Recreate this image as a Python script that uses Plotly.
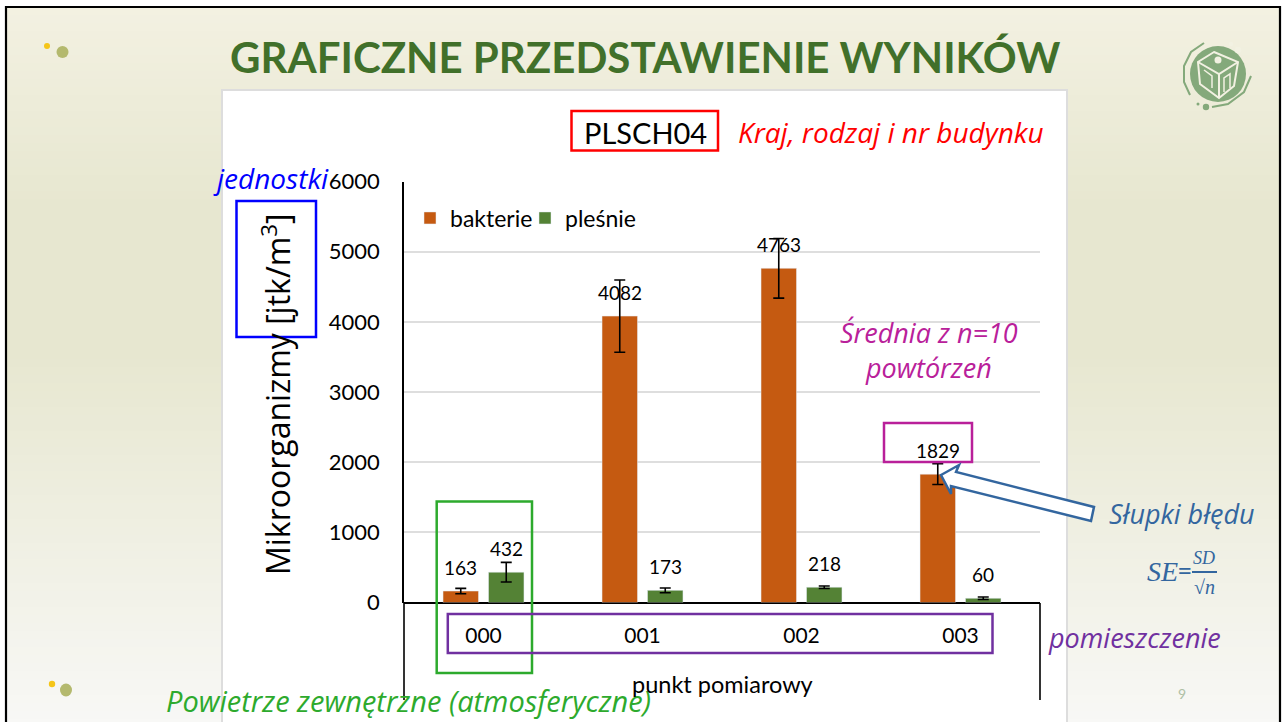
import plotly.graph_objects as go

W = 1283
H = 722

punkty = ["000", "001", "002", "003"]
bakterie = [163, 4082, 4763, 1829]
plesnie = [432, 173, 218, 60]
bakterie_se = [38, 515, 425, 148]
plesnie_se = [140, 33, 18, 18]
y_ticks = [0, 1000, 2000, 3000, 4000, 5000, 6000]

ORANGE = "#C55A11"
GREEN = "#548235"
TITLE_GREEN = "#41702A"
BLUE = "#33669F"
MAGENTA = "#B9209A"
PURPLE = "#7030A0"
BOX_GREEN = "#2DAA2D"
HAND = "Open Sans"
CHART = "Lato"


def px(x):
    return x / W


def py(y):
    return 1 - y / H


def rect(x0, y0, x1, y1, line=None, lw=2.5, fill=None, layer="above"):
    return dict(type="rect", xref="paper", yref="paper", x0=px(x0), x1=px(x1), y0=py(y0), y1=py(y1),
                line=dict(color=line, width=lw) if line else dict(width=0), fillcolor=fill, layer=layer)


def dot(cx, cy, r, color, ry=None):
    ry = ry or r
    return dict(type="circle", xref="paper", yref="paper", x0=px(cx - r), x1=px(cx + r),
                y0=py(cy + ry), y1=py(cy - ry), fillcolor=color, line=dict(width=0), layer="below")


def poly(points, line, lw=2.5, fill=None, closed=True, layer="above"):
    path = "M" + " L".join(f"{px(x):.5f},{py(y):.5f}" for x, y in points)
    if closed:
        path += " Z"
    return dict(type="path", xref="paper", yref="paper", path=path,
                line=dict(color=line, width=lw), fillcolor=fill, layer=layer)


def label(text, x, y, size, color, font=HAND, italic=True, bold=False, angle=0):
    return dict(text=text, xref="paper", yref="paper", x=px(x), y=py(y), xanchor="center", yanchor="middle",
                showarrow=False, textangle=angle,
                font=dict(family=font, size=size, color=color,
                          style="italic" if italic else "normal",
                          weight="bold" if bold else "normal"))


fig = go.Figure()
fig.add_bar(name="bakterie", x=punkty, y=bakterie, marker_color=ORANGE,
            error_y=dict(type="data", array=bakterie_se, color="black", thickness=1.6, width=5.5))
fig.add_bar(name="pleśnie", x=punkty, y=plesnie, marker_color=GREEN,
            error_y=dict(type="data", array=plesnie_se, color="black", thickness=1.6, width=5.5))

shapes = []

# slide background, light olive in the middle and nearly white at the bottom
stops = [(0, (243, 241, 226)), (200, (231, 231, 208)), (350, (231, 231, 208)), (722, (248, 248, 246))]
for y in range(7, H, 8):
    for (a, ca), (b, cb) in zip(stops, stops[1:]):
        if a <= y <= b:
            t = (y - a) / (b - a)
            c = [round(u + (v - u) * t) for u, v in zip(ca, cb)]
            shapes.append(rect(6, y, 1281, y + 9, fill=f"rgb({c[0]},{c[1]},{c[2]})", layer="below"))
            break
shapes.append(poly([(6, H), (6, 7), (1280, 7), (1280, H)], "black", lw=2.2, closed=False, layer="below"))
shapes.append(rect(222, 90, 1067, 724, line="#DDDDDD", lw=2, fill="white", layer="below"))

# bullets
shapes += [dot(47, 46, 3, "#F5C518"), dot(62.5, 52, 6, "#B4B96E"), dot(52, 684, 3.2, "#F5C518"), dot(66, 690, 6, "#B4B96E", 6.5)]

# logo
LOGO = "#84A97B"
LIGHT = "#F2F1E2"
shapes += [dot(1218, 74, 28, LOGO), dot(1238, 50, 3.2, LIGHT), dot(1231, 44, 2.2, LIGHT), dot(1206, 107, 3.2, LOGO), dot(1198, 104, 1.5, LOGO)]
shapes.append(poly([(1190, 95), (1184, 82), (1184, 66), (1191, 52), (1204, 43)], LOGO, lw=2, closed=False, layer="below"))
shapes.append(poly([(1212, 107), (1228, 104), (1244, 92), (1251, 76)], LOGO, lw=2, closed=False, layer="below"))
shapes.append(poly([(1214, 52), (1238, 62), (1234, 86), (1219, 98), (1200, 84), (1198, 62)], LIGHT, lw=2, layer="below"))
shapes.append(poly([(1198, 62), (1219, 74), (1238, 62)], LIGHT, lw=2, closed=False, layer="below"))
shapes.append(poly([(1219, 74), (1219, 98)], LIGHT, lw=2, closed=False, layer="below"))
shapes.append(poly([(1224, 92), (1224, 78), (1230, 74), (1230, 88)], LIGHT, lw=1.5, closed=False, layer="below"))
shapes.append(poly([(1204, 70), (1212, 76), (1212, 88)], LIGHT, lw=1.5, closed=False, layer="below"))
shapes.append(dot(1218, 60, 3.5, LIGHT))

# extension of the axis lines under the category labels
shapes.append(poly([(404, 603), (404, 700)], "black", lw=1.6, closed=False))
shapes.append(poly([(1040, 603), (1040, 700)], "black", lw=1.6, closed=False))

# explanation boxes
shapes.append(rect(571.5, 111, 718, 150.5, "#FF0000"))
shapes.append(rect(236.5, 201, 316, 337, "#0000FF"))
shapes.append(rect(884, 423, 972, 462, MAGENTA))
shapes.append(rect(436.7, 501.5, 532, 673, BOX_GREEN))
shapes.append(rect(447.8, 614, 992.5, 653, PURPLE))
shapes.append(poly([(941, 475), (959, 465), (956, 472), (1094, 507), (1091, 521), (951, 486), (951, 494)],
                   BLUE, fill="white"))
# SE fraction bar
shapes.append(poly([(1192, 572), (1217, 572)], BLUE, lw=2, closed=False))

annotations = [
    label("GRAFICZNE PRZEDSTAWIENIE WYNIKÓW", 645, 57, 42, TITLE_GREEN, font="Lato", italic=False, bold=True),
    label("PLSCH04", 645, 132, 29, "black", font=CHART, italic=False),
    label("Kraj, rodzaj i nr budynku", 891, 132, 28, "#FF0000"),
    label("jednostki", 271, 178, 28, "#0000FF"),
    label("Średnia z n=10<br>powtórzeń", 929, 350, 27, MAGENTA),
    label("Słupki błędu", 1182, 513, 27, BLUE),
    label("pomieszczenie", 1134, 637, 27, PURPLE),
    label("Powietrze zewnętrzne (atmosferyczne)", 408, 700, 29, BOX_GREEN),
    label("SE", 1162, 571, 28, BLUE, font="Liberation Serif"),
    label("=", 1185, 571, 24, BLUE, font="Liberation Serif", italic=False, bold=True),
    label("SD", 1204, 558, 18, BLUE, font="Liberation Serif"),
    label("√n", 1204, 587, 20, BLUE, font="Liberation Serif"),
    label("9", 1182, 693, 14, "#AFC0A5", font=CHART, italic=False),
    # axis titles, placed here because automargin would shrink the slide
    label("punkt pomiarowy", 722, 684, 23.5, "black", font=CHART, italic=False),
    label("Mikroorganizmy [jtk/m<sup>3</sup>]", 276, 394, 32, "black", italic=False, angle=-90),
]

# value labels sit a fixed distance above each bar
for values, shift in ((bakterie, -22.75), (plesnie, 22.75)):
    for cat, v in zip(punkty, values):
        annotations.append(dict(x=cat, y=v, xref="x", yref="y", text=str(v), showarrow=False, yanchor="middle",
                                xshift=shift, yshift=24, font=dict(family=CHART, size=19, color="black")))

fig.update_layout(
    width=W,
    height=H,
    autosize=False,
    margin=dict(l=0, r=0, t=0, b=0),
    paper_bgcolor="white",
    plot_bgcolor="rgba(0,0,0,0)",
    barmode="group",
    bargap=0.428,
    bargroupgap=0.22,
    font=dict(family=CHART, color="black"),
    legend=dict(orientation="h", x=px(410), y=py(218), xanchor="left", yanchor="middle",
                entrywidth=70, entrywidthmode="pixels",
                bgcolor="rgba(0,0,0,0)", font=dict(family=CHART, size=23), itemclick=False),
    shapes=shapes,
    annotations=annotations,
    xaxis=dict(domain=[px(404), px(1040)], type="category", showgrid=False, showline=False, ticks="", ticklabelstandoff=18,
               tickfont=dict(family=CHART, size=21), automargin=False),
    yaxis=dict(domain=[py(602.5), py(181.5)], range=[0, 6000], tickvals=y_ticks, showgrid=True, gridcolor="#DEDEDE",
               gridwidth=2, showline=True, linecolor="black", linewidth=1.6, zeroline=True, zerolinecolor="black",
               zerolinewidth=1.6, ticks="", ticklabelstandoff=18, tickfont=dict(family=CHART, size=22),
               automargin=False),
)

# the page's default body margin would push the slide off its position
fig.write_html("out.html", config={"displayModeBar": False}, post_script="document.body.style.margin = '0';")
